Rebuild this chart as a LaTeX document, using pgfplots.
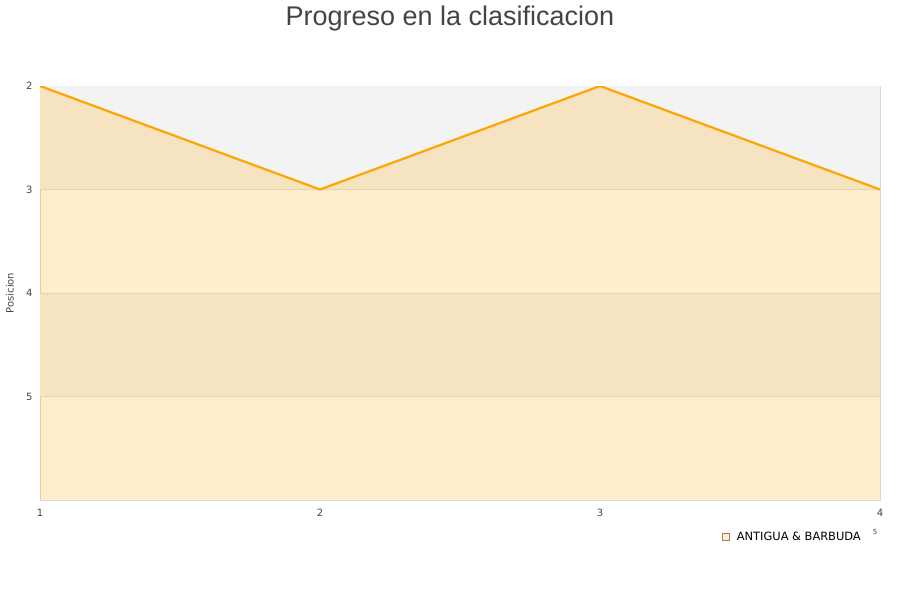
\documentclass[border=0pt]{standalone}
\usepackage{fontspec}
\setmainfont{DejaVu Sans}
\newfontfamily\titlefont{Liberation Sans}
\usepackage{pgfplots}
\pgfplotsset{compat=1.18}

\definecolor{bandgray}{HTML}{F3F3F3}
\definecolor{lineorange}{HTML}{FFA500}
\definecolor{framegray}{HTML}{D9D9D9}
\definecolor{gridgray}{HTML}{E6E0D6}
\definecolor{ticktext}{HTML}{444444}

\begin{document}
\begin{tikzpicture}[x=1pt,y=1pt]
\path[use as bounding box] (0,0) rectangle (900,600);

\node[anchor=base, text=ticktext, font=\titlefont\fontsize{27}{30}\selectfont]
  at (450,574) {Progreso en la clasificacion};

\begin{axis}[
    at={(40pt,100pt)}, anchor=south west,
    scale only axis,
    width=840pt, height=414pt,
    xmin=1, xmax=4,
    ymin=2, ymax=6,
    y dir=reverse,
    xtick={1,2,3,4},
    ytick={2,3,4,5},
    major tick length=0pt,
    tick label style={font=\fontsize{10}{11}\selectfont, text=ticktext},
    /pgf/number format/assume math mode=true,
    xticklabel style={yshift=-6pt},
    yticklabel style={xshift=-4pt},
    axis line style={framegray, line width=0.8pt},
    ylabel={Posicion},
    every axis y label/.style={at={(rel axis cs:-0.0357,0.5)}, rotate=90, anchor=center,
        font=\fontsize{10}{11}\selectfont, text=ticktext},
    legend style={at={(rel axis cs:0.808,-0.089)}, anchor=west, draw=none, fill=none,
        font=\fontsize{11.4}{12}\selectfont, legend cell align=left,
        nodes={inner xsep=8pt}},
    clip=true,
]
% alternating background bands
\addplot[draw=none, fill=bandgray, forget plot] coordinates {(1,2) (4,2) (4,3) (1,3)} -- cycle;
\addplot[draw=none, fill=bandgray, forget plot] coordinates {(1,4) (4,4) (4,5) (1,5)} -- cycle;

% horizontal grid lines
\addplot[gridgray, line width=0.6pt, forget plot] coordinates {(1,3) (4,3)};
\addplot[gridgray, line width=0.6pt, forget plot] coordinates {(1,4) (4,4)};
\addplot[gridgray, line width=0.6pt, forget plot] coordinates {(1,5) (4,5)};

% area below the ranking line
\addplot[draw=none, fill=lineorange, fill opacity=0.2, forget plot]
  coordinates {(1,6) (1,2) (2,3) (3,2) (4,3) (4,6)} -- cycle;

% ranking line
\addplot[lineorange, line width=2.2pt, forget plot]
  coordinates {(1,2) (2,3) (3,2) (4,3)};

\addlegendimage{only marks, mark=square*, mark size=3.5pt,
  mark options={fill=lineorange!20, draw=brown!55!gray, line width=0.5pt}}
\addlegendentry{ANTIGUA \& BARBUDA}
\end{axis}

\node[text=ticktext, font=\fontsize{7}{8}\selectfont] at (875,68) {5};
\end{tikzpicture}
\end{document}
